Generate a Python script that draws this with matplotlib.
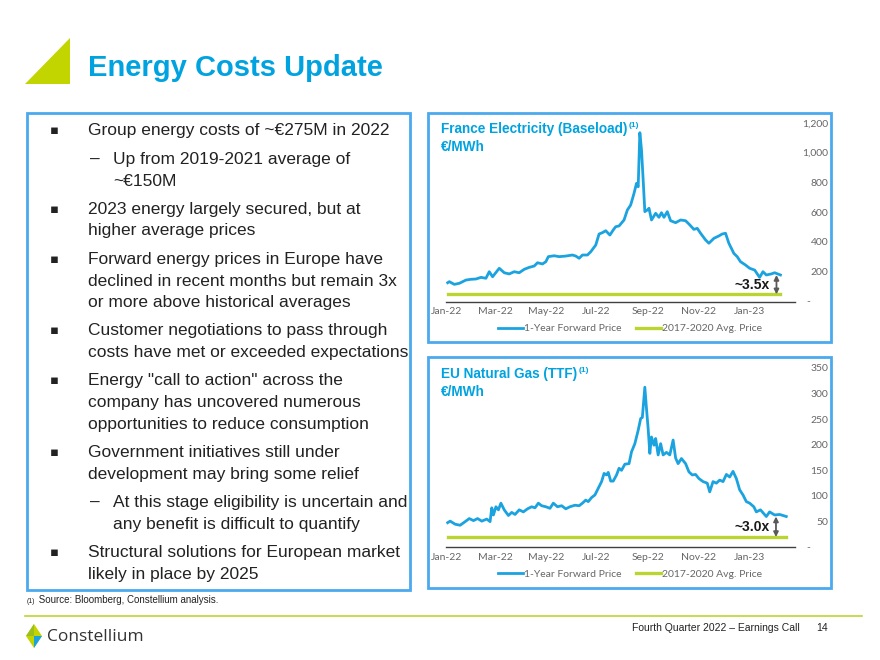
import matplotlib.pyplot as plt
from matplotlib.patches import Polygon, Rectangle
import pandas as pd

plt.rcParams['font.family'] = ['Liberation Sans', 'DejaVu Sans']

BLUE = '#00A3E0'
LINE_BLUE = '#1BA3E0'
GREEN = '#BCD431'
LOGO_GREEN = '#C3D500'
BOX = '#4BA9EE'
GREY = '#666666'

# France electricity, 1-year forward (EUR/MWh)
elec_dates = ['2022-01-03', '2022-01-05', '2022-01-11', '2022-01-17', '2022-01-25', '2022-01-31',
              '2022-02-06', '2022-02-12', '2022-02-18', '2022-02-22', '2022-02-26', '2022-03-06',
              '2022-03-12', '2022-03-18', '2022-03-24', '2022-03-30', '2022-04-05', '2022-04-11',
              '2022-04-17', '2022-04-21', '2022-04-27', '2022-05-01', '2022-05-04', '2022-05-11',
              '2022-05-17', '2022-05-25', '2022-06-02', '2022-06-06', '2022-06-10', '2022-06-14',
              '2022-06-20', '2022-06-24', '2022-06-30', '2022-07-04', '2022-07-08', '2022-07-12',
              '2022-07-17', '2022-07-21', '2022-07-24', '2022-07-28', '2022-08-03', '2022-08-07',
              '2022-08-11', '2022-08-15', '2022-08-18', '2022-08-20', '2022-08-22', '2022-08-24',
              '2022-08-26', '2022-08-28', '2022-08-31', '2022-09-02', '2022-09-05', '2022-09-10',
              '2022-09-14', '2022-09-17', '2022-09-20', '2022-09-24', '2022-09-28', '2022-10-04',
              '2022-10-10', '2022-10-16', '2022-10-20', '2022-10-26', '2022-10-30', '2022-11-03',
              '2022-11-09', '2022-11-13', '2022-11-19', '2022-11-25', '2022-11-29', '2022-12-03',
              '2022-12-07', '2022-12-13', '2022-12-17', '2022-12-21', '2022-12-27', '2023-01-01',
              '2023-01-07', '2023-01-13', '2023-01-17', '2023-01-21', '2023-01-27', '2023-01-31',
              '2023-02-07']
elec_price = [126, 133, 115, 122, 144, 149,
              151, 162, 156, 200, 166, 223,
              193, 185, 200, 193, 216, 229,
              238, 260, 252, 267, 301, 307,
              301, 305, 312, 305, 290, 312,
              312, 334, 379, 453, 462, 475,
              446, 480, 502, 507, 547, 614,
              648, 726, 793, 770, 1133, 1017,
              815, 603, 614, 626, 547, 592,
              565, 596, 565, 603, 542, 529,
              547, 542, 520, 484, 491, 458,
              413, 391, 424, 440, 453, 458,
              391, 323, 301, 267, 245, 223,
              211, 162, 200, 178, 185, 193,
              178]
elec_avg = 48

# EU natural gas TTF, 1-year forward (EUR/MWh)
gas_dates = ['2022-01-03', '2022-01-06', '2022-01-12', '2022-01-18', '2022-01-24', '2022-01-29',
             '2022-02-03', '2022-02-08', '2022-02-13', '2022-02-19', '2022-02-23', '2022-02-25',
             '2022-02-27', '2022-03-02', '2022-03-05', '2022-03-08', '2022-03-12', '2022-03-17',
             '2022-03-21', '2022-03-25', '2022-03-30', '2022-04-04', '2022-04-09', '2022-04-14',
             '2022-04-18', '2022-04-22', '2022-04-26', '2022-05-01', '2022-05-06', '2022-05-10',
             '2022-05-15', '2022-05-20', '2022-05-25', '2022-05-30', '2022-06-05', '2022-06-10',
             '2022-06-14', '2022-06-18', '2022-06-21', '2022-06-25', '2022-06-29', '2022-07-03',
             '2022-07-07', '2022-07-10', '2022-07-13', '2022-07-15', '2022-07-18', '2022-07-21',
             '2022-07-25', '2022-07-28', '2022-07-31', '2022-08-04', '2022-08-09', '2022-08-12',
             '2022-08-16', '2022-08-20', '2022-08-23', '2022-08-25', '2022-08-28', '2022-08-30',
             '2022-09-01', '2022-09-03', '2022-09-05', '2022-09-08', '2022-09-10', '2022-09-13',
             '2022-09-16', '2022-09-19', '2022-09-23', '2022-09-27', '2022-10-01', '2022-10-04',
             '2022-10-07', '2022-10-11', '2022-10-16', '2022-10-20', '2022-10-24', '2022-10-28',
             '2022-11-01', '2022-11-06', '2022-11-11', '2022-11-14', '2022-11-18', '2022-11-22',
             '2022-11-26', '2022-11-30', '2022-12-04', '2022-12-08', '2022-12-12', '2022-12-16',
             '2022-12-20', '2022-12-24', '2022-12-28', '2023-01-01', '2023-01-06', '2023-01-09',
             '2023-01-14', '2023-01-21', '2023-01-25', '2023-01-31', '2023-02-06', '2023-02-14']
gas_price = [48, 51, 45, 43, 50, 56,
             52, 56, 51, 55, 50, 77,
             63, 79, 73, 86, 73, 62,
             68, 64, 73, 69, 75, 79,
             77, 86, 81, 79, 76, 86,
             79, 81, 75, 79, 82, 81,
             86, 92, 89, 97, 102, 115,
             128, 144, 141, 146, 129, 129,
             141, 154, 150, 162, 163, 186,
             202, 228, 251, 253, 312, 270,
             231, 183, 215, 199, 212, 180,
             202, 180, 185, 180, 209, 174,
             163, 173, 163, 147, 141, 142,
             134, 128, 125, 108, 128, 125,
             131, 128, 142, 137, 148, 134,
             112, 102, 89, 86, 79, 69,
             73, 60, 69, 63, 64, 60]
gas_avg = 20

elec_ticks = [0, 200, 400, 600, 800, 1000, 1200]
gas_ticks = [0, 50, 100, 150, 200, 250, 300, 350]
month_ticks = ['2022-01-01', '2022-03-01', '2022-05-01', '2022-07-01',
               '2022-09-01', '2022-11-01', '2023-01-01']

bullets = [
    (0, ['Group energy costs of ~\u20ac275M in 2022']),
    (1, ['Up from 2019-2021 average of', '~\u20ac150M']),
    (0, ['2023 energy largely secured, but at', 'higher average prices']),
    (0, ['Forward energy prices in Europe have', 'declined in recent months but remain 3x',
         'or more above historical averages']),
    (0, ['Customer negotiations to pass through', 'costs have met or exceeded expectations']),
    (0, ['Energy "call to action" across the', 'company has uncovered numerous',
         'opportunities to reduce consumption']),
    (0, ['Government initiatives still under', 'development may bring some relief']),
    (1, ['At this stage eligibility is uncertain and', 'any benefit is difficult to quantify']),
    (0, ['Structural solutions for European market', 'likely in place by 2025']),
]

W, H = 880, 660
fig = plt.figure(figsize=(W / 100, H / 100), dpi=100)

# background layer in pixel coordinates
bg = fig.add_axes([0, 0, 1, 1])
bg.set_xlim(0, W)
bg.set_ylim(H, 0)
bg.axis('off')

# title + green triangle
bg.add_patch(Polygon([(25, 84), (70, 38), (70, 84)], closed=True, color=LOGO_GREEN, lw=0))
bg.text(88, 68, 'Energy Costs Update', fontsize=21, fontweight='bold', color=BLUE, va='center')

# left text box
bg.add_patch(Rectangle((27, 113), 383, 477, fill=False, ec=BOX, lw=2))
y = 131
for level, lines in bullets:
    if level == 0:
        bg.text(50, y, '\u25aa', fontsize=9.5, va='center', color='#222222', family='DejaVu Sans')
        tx = 88
    else:
        bg.text(90, y, '\u2013', fontsize=12.5, va='center', color='#222222')
        tx = 113
    for line in lines:
        bg.text(tx, y, line, fontsize=12.5, va='center', color='#222222')
        y += 21.5
    y += 7

# chart panel boxes
bg.add_patch(Rectangle((428, 113), 403, 229, fill=False, ec=BOX, lw=2))
bg.add_patch(Rectangle((428, 357), 403, 231, fill=False, ec=BOX, lw=2))

# footer
t = bg.text(27, 605, '(1)', fontsize=5, va='bottom', color='#222222')
bg.annotate(' Source: Bloomberg, Constellium analysis.', xy=(1, 0), xycoords=t,
            fontsize=7, va='bottom', color='#222222')
bg.plot([25, 862], [616, 616], color=GREEN, lw=1.2)
bg.add_patch(Polygon([(34, 624), (42, 636), (34, 648), (26, 636)], closed=True, color=LOGO_GREEN, lw=0))
bg.add_patch(Polygon([(34, 636), (42, 636), (34, 648)], closed=True, color='#1BA3E0', lw=0))
bg.add_patch(Polygon([(26, 636), (34, 636), (34, 624)], closed=True, color='#9DBF1E', lw=0))
bg.text(47, 637, 'Constellium', fontsize=12.5, color='#333333', va='center', family='Open Sans',
        fontweight='medium')
bg.text(800, 628, 'Fourth Quarter 2022 \u2013 Earnings Call', fontsize=7.5, ha='right', va='center',
        color='#222222')
bg.text(828, 628, '14', fontsize=7.5, ha='right', va='center', color='#222222')

x0 = pd.Timestamp('2022-01-01')
x1 = x0 + pd.Timedelta(days=419.5)


def draw_chart(top, bottom, dates, price, avg, ticks, title, ratio, arrow_px):
    ax = fig.add_axes([446 / W, 1 - bottom / H, (795 - 446) / W, (bottom - top) / H])
    ax.patch.set_alpha(0)
    d = pd.to_datetime(dates)
    ax.plot(d, price, color=LINE_BLUE, lw=2.0, label='1-Year Forward Price')
    ax.plot([d[0], d[-1]], [avg, avg], color=GREEN, lw=2.4, label='2017-2020 Avg. Price')
    ax.set_xlim(x0, x1)
    ax.set_ylim(ticks[0], ticks[-1])

    for s in ['top', 'left', 'right']:
        ax.spines[s].set_visible(False)
    ax.spines['bottom'].set_color('#404040')
    ax.spines['bottom'].set_linewidth(1)

    ax.set_xticks(pd.to_datetime(month_ticks))
    ax.set_xticklabels([m.strftime('%b-%y') for m in pd.to_datetime(month_ticks)],
                       fontsize=7.5, color=GREY, family='Lato')
    ax.tick_params(axis='x', length=0, pad=4)

    ax.set_yticks(ticks)
    ax.set_yticklabels([f'{v:,}' if v else '' for v in ticks], fontsize=7.5, color=GREY, family='Lato')
    ax.tick_params(axis='y', left=False, right=False, labelleft=False, labelright=True, length=0, pad=24)
    for lbl in ax.get_yticklabels():
        lbl.set_ha('right')
    bg.text(808, bottom, '-', fontsize=7.5, color=GREY, ha='center', va='center', family='Lato')

    # ratio arrow between last price and average
    end = pd.Timestamp('2022-01-01') + pd.Timedelta(days=(arrow_px - 446) / 0.832)
    ax.annotate('', xy=(end, avg), xytext=(end, price[-1]),
                arrowprops=dict(arrowstyle='<|-|>', color='#595959', lw=1.3,
                                shrinkA=0, shrinkB=0, mutation_scale=7))
    ax.text(end - pd.Timedelta(days=8), (avg + price[-1]) / 2 - (ticks[-1] * 0.004), ratio,
            fontsize=10, fontweight='bold', color='#1A1A1A', ha='right', va='center')

    t = bg.text(441, top + 6, title, fontsize=9.8, fontweight='bold', color=BLUE, va='center')
    bg.annotate('(1)', xy=(1, 1), xycoords=t, fontsize=6, fontweight='bold', color=BLUE,
                va='top', xytext=(1, 0), textcoords='offset points')
    bg.text(441, top + 24, '\u20ac/MWh', fontsize=9.8, fontweight='bold', color=BLUE, va='center')

    ax.legend(loc='center', bbox_to_anchor=(630 / W, 1 - (bottom + 27) / H),
              bbox_transform=fig.transFigure, ncol=2, frameon=False,
              prop={'family': 'Lato', 'size': 7.5}, labelcolor=GREY,
              handlelength=2.4, handletextpad=0.1, columnspacing=1.4)
    return ax


draw_chart(122.7, 301.5, elec_dates, elec_price, elec_avg, elec_ticks,
           'France Electricity (Baseload)', '~3.5x', 776.5)
draw_chart(367.7, 547.3, gas_dates, gas_price, gas_avg, gas_ticks,
           'EU Natural Gas (TTF)', '~3.0x', 776)

plt.savefig('out.png', dpi=100)
